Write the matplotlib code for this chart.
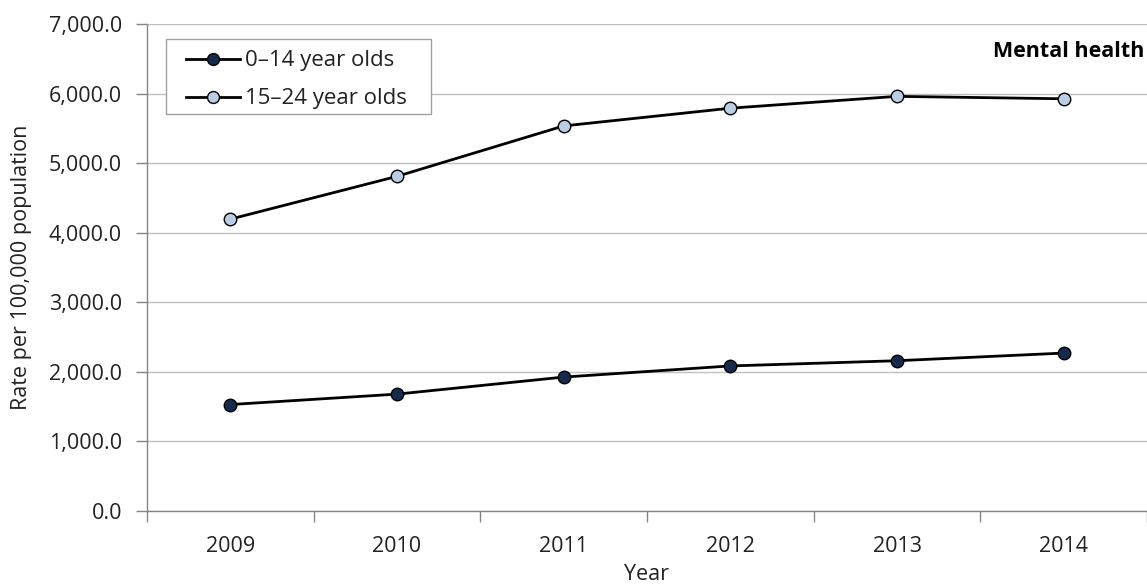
import matplotlib
matplotlib.use("Agg")
import matplotlib.pyplot as plt
from matplotlib.ticker import FuncFormatter, FixedLocator
from matplotlib.patches import Rectangle

years = ["2009", "2010", "2011", "2012", "2013", "2014"]
age_0_14 = [1530, 1680, 1925, 2085, 2160, 2270]
age_15_24 = [4195, 4810, 5535, 5790, 5960, 5925]
series_labels = ["0\u201314 year olds", "15\u201324 year olds"]
title_text = "Mental health"

plt.rcParams['font.family'] = ['Open Sans', 'DejaVu Sans']
FS = 15.5
W, H = 1147, 585

fig = plt.figure(figsize=(W / 100, H / 100), dpi=100)
ax = fig.add_axes([147/W, 1 - 511/H, 1000/W, (511 - 24)/H])

x = list(range(len(years)))
ax.plot(x, age_0_14, color="black", lw=2.0, marker="o", markersize=9,
        markerfacecolor="#162a4c", markeredgecolor="black", markeredgewidth=1.0,
        label=series_labels[0], zorder=3)
ax.plot(x, age_15_24, color="black", lw=2.0, marker="o", markersize=9,
        markerfacecolor="#b9cde5", markeredgecolor="black", markeredgewidth=1.0,
        label=series_labels[1], zorder=3)

ax.set_xlim(-0.5, len(years) - 0.5)
ax.set_ylim(0, 7000)
ax.set_yticks(range(0, 7001, 1000))
ax.yaxis.set_major_formatter(FuncFormatter(lambda v, p: f"{v:,.1f}"))
ax.grid(axis="y", color="#c0c0c0", lw=1.0)
ax.set_axisbelow(True)

ax.set_xticks(x)
ax.set_xticklabels(years)
ax.xaxis.set_minor_locator(FixedLocator([i - 0.5 for i in range(len(years) + 1)]))
ax.tick_params(axis="x", which="major", length=0, labelsize=FS, pad=18, colors="#222222")
ax.tick_params(axis="x", which="minor", length=8, color="#868686", width=1)
ax.tick_params(axis="y", length=8, color="#868686", width=1, labelsize=FS, pad=10, labelcolor="#222222")

for s in ["top", "right"]:
    ax.spines[s].set_visible(False)
for s in ["left", "bottom"]:
    ax.spines[s].set_color("#868686")
    ax.spines[s].set_linewidth(1.0)

ax.set_xlabel("Year", fontsize=FS, color="#222222", labelpad=5)
ax.set_ylabel("Rate per 100,000 population", fontsize=FS, color="#222222", labelpad=12)

# legend frame (drawn separately to match the wide horizontal padding)
frame = Rectangle((166 / W, 1 - 114 / H), (431 - 166) / W, (114 - 39) / H,
                  transform=fig.transFigure, facecolor="white",
                  edgecolor="#a0a0a0", lw=1.0, zorder=4, clip_on=False)
ax.add_artist(frame)
leg = ax.legend(loc="upper left", bbox_to_anchor=(182 / W, 1 - 46 / H),
                bbox_transform=fig.transFigure, fontsize=16,
                frameon=False, handlelength=2.4, handletextpad=0.25,
                borderpad=0.2, labelspacing=0.76, borderaxespad=0, markerscale=0.95)
leg.set_zorder(5)
for t in leg.get_texts():
    t.set_color("#222222")

ax.text(0.997, 0.965, title_text, transform=ax.transAxes, ha="right", va="top",
        fontsize=FS, fontweight="bold", color="black")

fig.savefig("out.png", dpi=100)
